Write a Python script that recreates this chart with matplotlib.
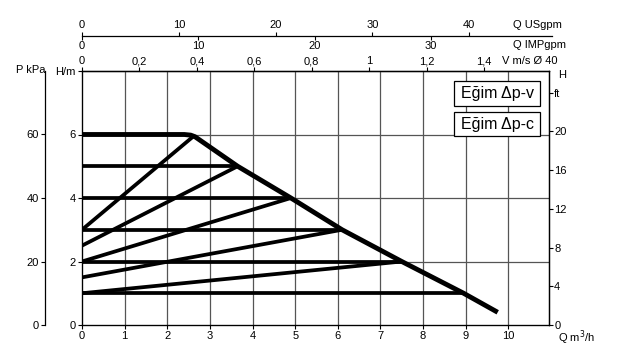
import matplotlib
matplotlib.use("Agg")
import matplotlib.pyplot as plt
from matplotlib.patches import Rectangle

plt.rcParams['font.family'] = ['Liberation Sans', 'DejaVu Sans']
plt.rcParams['font.size'] = 8

# pump curve data, flow Q in m3/h, head H in m
max_q = [0, 2.4, 2.55, 2.65, 3.65, 4.9, 6.1, 7.5, 8.95, 9.75]
max_h = [6.0, 6.0, 5.98, 5.93, 5.0, 4.0, 3.0, 2.0, 1.0, 0.4]

# constant pressure (dp-c) settings
dpc_h = [1, 2, 3, 4, 5]
dpc_qend = [8.95, 7.5, 6.1, 4.9, 3.65]

# proportional pressure (dp-v) settings
dpv_h0 = [1.0, 1.5, 2.0, 2.5, 3.0]
dpv_qend = [7.5, 6.1, 4.9, 3.65, 2.62]
dpv_hend = [2, 3, 4, 5, 5.95]

x_ticks = list(range(11))
h_ticks = [0, 2, 4, 6]
kpa_ticks = [0, 20, 40, 60]
ft_ticks = [0, 4, 8, 12, 16, 20]
v_ticks = [0, 0.2, 0.4, 0.6, 0.8, 1.0, 1.2, 1.4]
v_labels = ['0', '0,2', '0,4', '0,6', '0,8', '1', '1,2', '1,4']
us_ticks = [0, 10, 20, 30, 40]
imp_ticks = [0, 10, 20, 30]

US_GPM = 0.2271   # m3/h per US gpm
IMP_GPM = 0.2728  # m3/h per imperial gpm
V_PER_Q = 0.1485  # m/s per m3/h, DN40
FT_PER_M = 3.2808
FS = 8

W, H = 618, 351
fig = plt.figure(figsize=(W / 100, H / 100), dpi=100)


def fx(px):
    return px / W


def fy(py):
    return 1 - py / H


ax = fig.add_axes([fx(82), fy(325), fx(549.3 - 82), (325 - 71) / H])
ax.set_xlim(0, 10.96)
ax.set_ylim(0, 8)

for q in x_ticks[1:]:
    ax.axvline(q, color='#555555', lw=0.9, zorder=1)
for h in h_ticks[1:]:
    ax.axhline(h, color='#555555', lw=0.9, zorder=1)

for h, qe in zip(dpc_h, dpc_qend):
    ax.plot([0, qe], [h, h], color='black', lw=2.7, solid_capstyle='butt', zorder=3)
for h0, qe, he in zip(dpv_h0, dpv_qend, dpv_hend):
    ax.plot([0, qe], [h0, he], color='black', lw=2.7, solid_capstyle='butt', zorder=3)
ax.plot(max_q, max_h, color='black', lw=3.5, solid_capstyle='butt',
        solid_joinstyle='round', zorder=4)

ax.set_xticks(x_ticks)
ax.set_xticklabels([str(v) for v in x_ticks])
ax.set_yticks(h_ticks + [8])
ax.set_yticklabels([str(v) for v in h_ticks] + ['H/m'])
ax.tick_params(axis='both', direction='out', length=3, width=0.8, pad=1.5,
               labelsize=FS, top=False, right=False)
for s in ax.spines.values():
    s.set_linewidth(0.9)

# pressure scale on the far left
axp = ax.twinx()
axp.set_ylim(0, 80)
axp.spines['left'].set_visible(True)
axp.spines['left'].set_position(('outward', 26.6))
axp.spines['right'].set_visible(False)
axp.spines['top'].set_visible(False)
axp.spines['bottom'].set_visible(False)
axp.spines['left'].set_linewidth(0.9)
axp.yaxis.set_ticks_position('left')
axp.set_yticks(kpa_ticks)
axp.set_yticklabels([str(v) for v in kpa_ticks])
axp.tick_params(axis='y', direction='out', length=3, width=0.8, pad=1.5, labelsize=FS)

# head in feet on the right
axf = ax.twinx()
axf.set_ylim(0, 8 * FT_PER_M)
axf.set_yticks(ft_ticks + [24])
axf.set_yticklabels([str(v) for v in ft_ticks] + ['ft'])
axf.tick_params(axis='y', direction='out', length=3, width=0.8, pad=0.5, labelsize=FS)
axf.spines['right'].set_linewidth(0.9)

# velocity scale on the top spine
axv = ax.secondary_xaxis('top', functions=(lambda q: q * V_PER_Q, lambda v: v / V_PER_Q))
axv.set_xticks(v_ticks)
axv.set_xticklabels(v_labels)
axv.tick_params(direction='out', length=3, width=0.8, pad=0.5, labelsize=FS)
axv.spines['top'].set_linewidth(0.9)

# gallons scales on a separate line
ag = fig.add_axes([fx(82), fy(36), fx(551.7 - 82), 0.0001])
ag.set_xlim(0, (551.7 - 82) / 42.63)
ag.set_ylim(0, 1)
for k in ['left', 'right', 'top']:
    ag.spines[k].set_visible(False)
ag.spines['bottom'].set_linewidth(0.9)
ag.set_yticks([])
ag.set_xticks([n * IMP_GPM for n in imp_ticks])
ag.set_xticklabels([str(n) for n in imp_ticks])
ag.tick_params(axis='x', direction='out', length=3, width=0.8, pad=0.5, labelsize=FS)
agu = ag.secondary_xaxis('top', functions=(lambda q: q / US_GPM, lambda u: u * US_GPM))
agu.set_xticks(us_ticks)
agu.set_xticklabels([str(n) for n in us_ticks])
agu.spines['top'].set_visible(False)
agu.tick_params(direction='out', length=3, width=0.8, pad=1.5, labelsize=FS)

fig.text(fx(513), fy(25), 'Q USgpm', ha='left', va='center', fontsize=FS)
fig.text(fx(513), fy(45), 'Q IMPgpm', ha='left', va='center', fontsize=FS)
fig.text(fx(502), fy(61), 'V m/s Ø 40', ha='left', va='center', fontsize=FS)
fig.text(fx(46), fy(70), 'P kPa', ha='right', va='center', fontsize=FS)
fig.text(fx(558), fy(75), 'H', ha='left', va='center', fontsize=FS)
fig.text(fx(558), fy(338), 'Q m$^3$/h', ha='left', va='center', fontsize=FS)

# mode boxes
for label, top in [('Eğim Δp-v', 81), ('Eğim Δp-c', 112)]:
    rect = Rectangle((fx(454), fy(top + 24.5)), fx(86), 24.5 / H,
                     transform=fig.transFigure, facecolor='white',
                     edgecolor='black', lw=0.9, zorder=5)
    fig.add_artist(rect)
    fig.text(fx(497), fy(top + 12.5), label, ha='center', va='center',
             fontsize=11.5, zorder=6)

fig.savefig('out.png', dpi=100)
